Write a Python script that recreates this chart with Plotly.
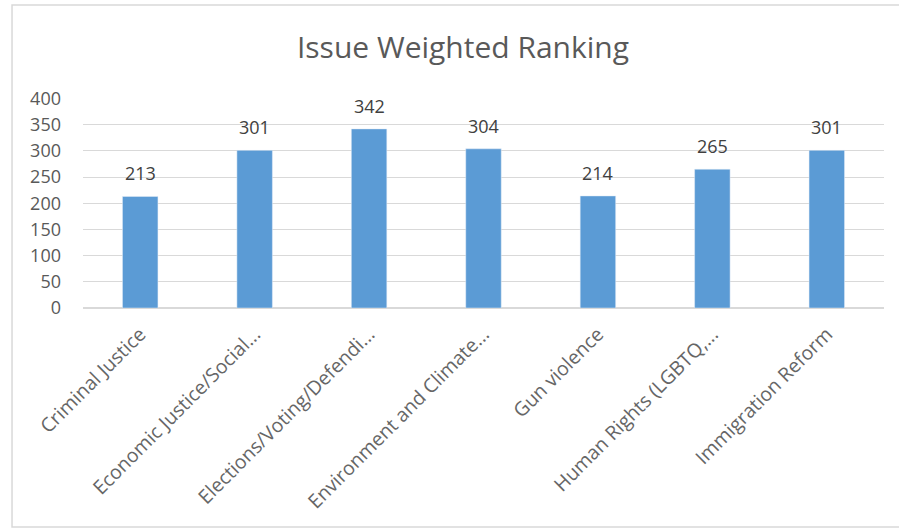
import plotly.graph_objects as go

categories = ["Criminal Justice", "Economic Justice/Social...", "Elections/Voting/Defendi...",
              "Environment and Climate...", "Gun violence", "Human Rights (LGBTQ,...",
              "Immigration Reform"]
values = [213, 301, 342, 304, 214, 265, 301]
y_ticks = [0, 50, 100, 150, 200, 250, 300, 350, 400]

FONT = "Open Sans"
fig = go.Figure(go.Bar(
    x=categories, y=values, marker_color="#5B9BD5", width=0.31,
))
for c, v in zip(categories, values):
    fig.add_annotation(x=c, y=v, text=str(v), showarrow=False, yanchor="bottom", yshift=9,
                       font=dict(family=FONT, size=18, color="#404040"))
fig.update_layout(
    width=899, height=529,
    margin=dict(l=83, r=15, t=98, b=221),
    paper_bgcolor="white", plot_bgcolor="white",
    title=dict(text="Issue Weighted Ranking", x=0.515, xanchor="center", y=0.91, yanchor="middle",
               font=dict(family=FONT, size=30, color="#595959")),
    showlegend=False,
    xaxis=dict(tickangle=-45, tickfont=dict(family=FONT, size=19.5, color="#666666"),
               showgrid=False, showline=False, ticks="", ticklabelstandoff=10),
    yaxis=dict(range=[0, 401], tickvals=y_ticks, tickfont=dict(family=FONT, size=18, color="#595959"),
               gridcolor="#D9D9D9", zeroline=True, zerolinecolor="#D9D9D9", showline=False,
               ticks="", ticklabelstandoff=21),
    shapes=[dict(type="rect", xref="paper", yref="paper", x0=-0.0886, x1=1.03, y0=-1.043, y1=1.443,
                 line=dict(color="#D9D9D9", width=1.5), layer="below")],
)
fig.write_html("out.html", config={"displayModeBar": False},
               post_script="document.body.style.margin='0';")
